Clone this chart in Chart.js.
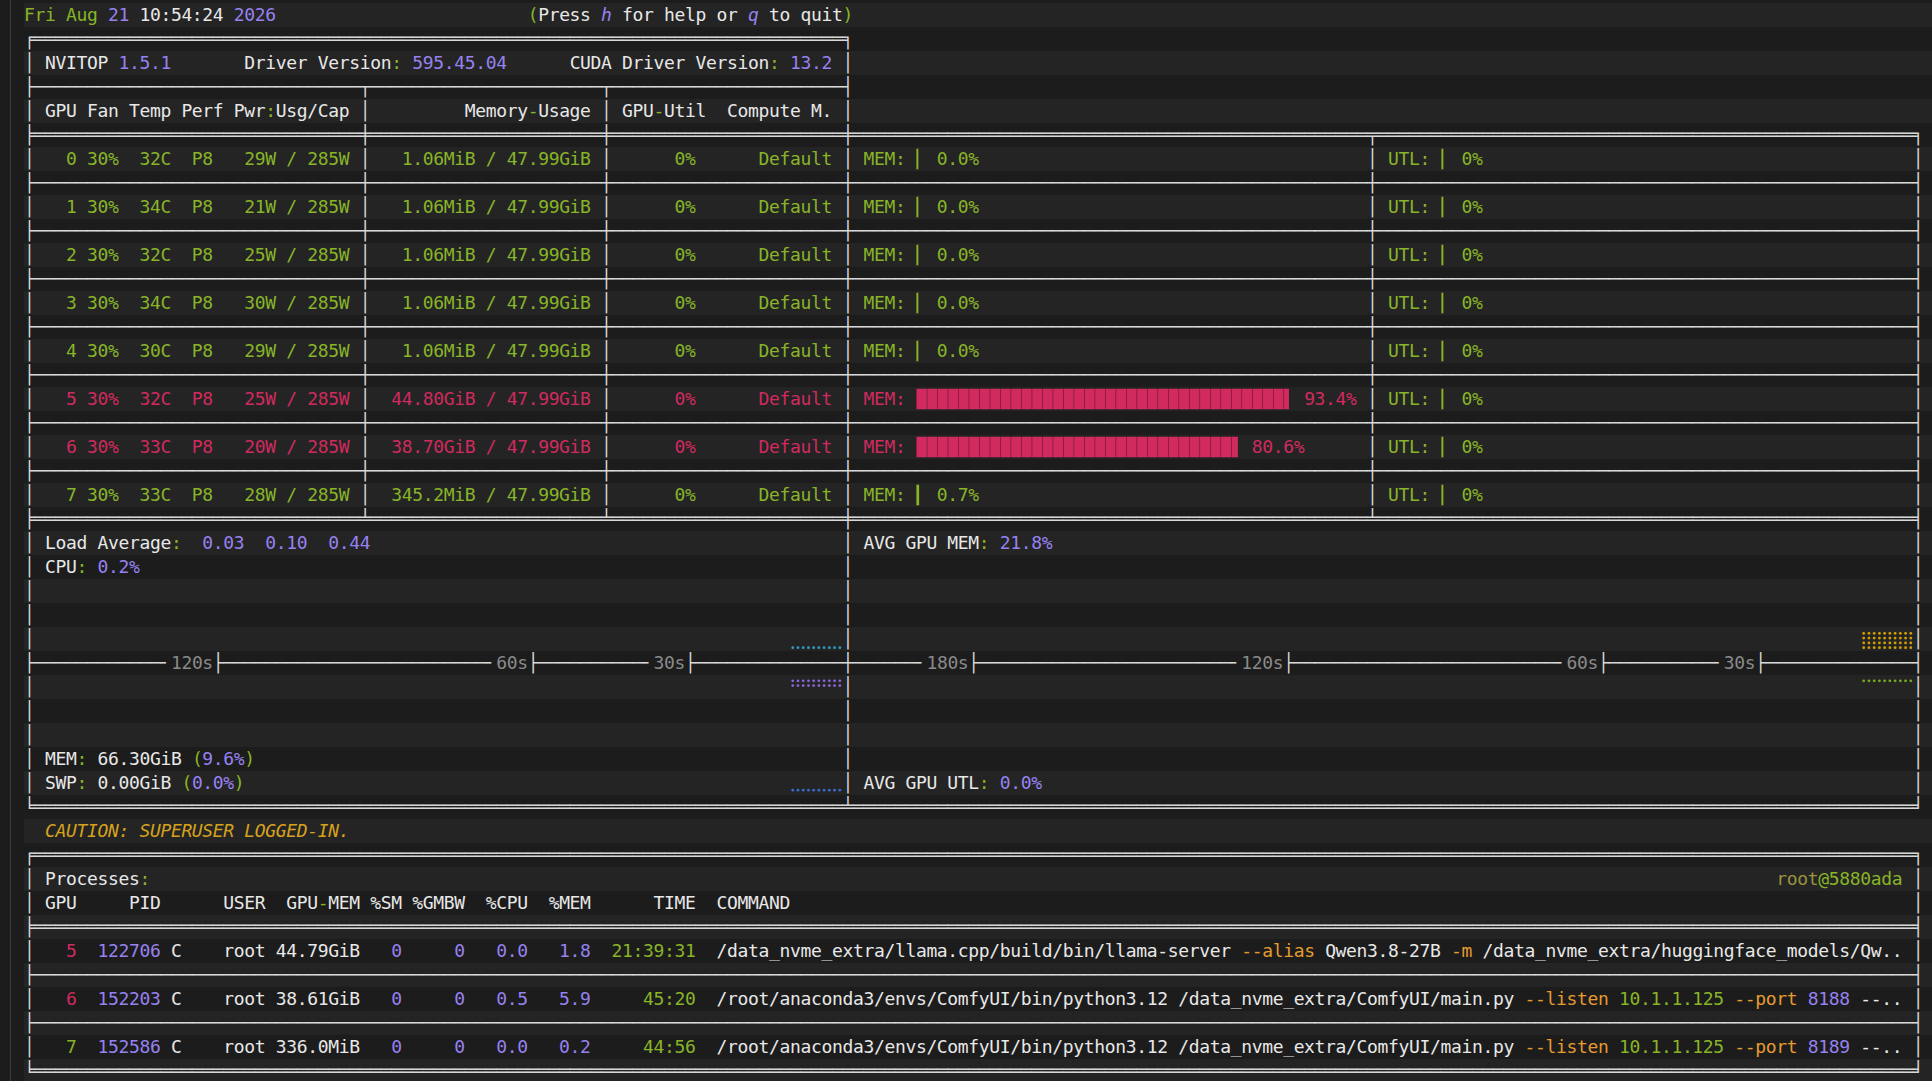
<!DOCTYPE html>
<html>
<head>
<meta charset="utf-8">
<title>nvitop</title>
<script src="https://cdn.jsdelivr.net/npm/chart.js@4.4.1/dist/chart.umd.min.js"></script>
<style>
  html, body { margin: 0; padding: 0; background: #1c1c1c; }
  #term { position: relative; width: 1932px; height: 1081px; overflow: hidden; background: #1c1c1c; }
  .band { position: absolute; left: 24px; width: 1908px; height: 24px; background: #242424; }
  .pane { position: absolute; left: 10px; top: 0; width: 1px; height: 1081px; background: #3d3d3d; }
  .t { position: absolute; white-space: pre; font-family: "DejaVu Sans Mono", monospace; font-size: 18px; line-height: 24px; height: 24px; }
  canvas { position: absolute; z-index: 2; }
</style>
</head>
<body>
<div id="term"><div class="pane"></div></div>
<script>
// values
const clockDay = 'Fri Aug';
const clockDate = '21';
const clockTime = '10:54:24';
const clockYear = '2026';
const nvitopVersion = '1.5.1';
const driverVersion = '595.45.04';
const cudaVersion = '13.2';

const gpuIds = [0, 1, 2, 3, 4, 5, 6, 7];
const fanSpeed = [30, 30, 30, 30, 30, 30, 30, 30];
const temperature = [32, 34, 32, 34, 30, 32, 33, 33];
const perfState = ['P8', 'P8', 'P8', 'P8', 'P8', 'P8', 'P8', 'P8'];
const powerUsage = [29, 21, 25, 30, 29, 25, 20, 28];
const powerCap = [285, 285, 285, 285, 285, 285, 285, 285];
const memUsed = ['1.06MiB', '1.06MiB', '1.06MiB', '1.06MiB', '1.06MiB', '44.80GiB', '38.70GiB', '345.2MiB'];
const memTotal = ['47.99GiB', '47.99GiB', '47.99GiB', '47.99GiB', '47.99GiB', '47.99GiB', '47.99GiB', '47.99GiB'];
const memPercent = [0.0, 0.0, 0.0, 0.0, 0.0, 93.4, 80.6, 0.7];
const gpuUtil = [0, 0, 0, 0, 0, 0, 0, 0];
const computeMode = ['Default', 'Default', 'Default', 'Default', 'Default', 'Default', 'Default', 'Default'];

const loadAverage = ['0.03', '0.10', '0.44'];
const cpuPercent = 0.2;
const hostMemUsed = '66.30GiB';
const hostMemPercent = 9.6;
const swapUsed = '0.00GiB';
const swapPercent = 0.0;
const avgGpuMem = 21.8;
const avgGpuUtl = 0.0;

// history samples, oldest -> newest, one per second
const cpuHistory = [0.2, 0.2, 0.3, 0.2, 0.2, 0.1, 0.2, 0.2, 0.3, 0.2];
const memHistory = [9.6, 9.6, 9.6, 9.6, 9.6, 9.6, 9.6, 9.6, 9.6, 9.6];
const swapHistory = [0.0, 0.0, 0.0, 0.0, 0.0, 0.0, 0.0, 0.0, 0.0, 0.0];
const gpuMemHistory = [21.8, 21.8, 21.8, 21.8, 21.8, 21.8, 21.8, 21.8, 21.8, 21.8];
const gpuUtlHistory = [0.0, 0.0, 0.0, 0.0, 0.0, 0.0, 0.0, 0.0, 0.0, 0.0];

const hostTicks = [120, 60, 30];
const gpuTicks = [180, 120, 60, 30];

const procGpu = [5, 6, 7];
const procPid = [122706, 152203, 152586];
const procType = ['C', 'C', 'C'];
const procUser = ['root', 'root', 'root'];
const procGpuMem = ['44.79GiB', '38.61GiB', '336.0MiB'];
const procSm = [0, 0, 0];
const procGmbw = [0, 0, 0];
const procCpu = [0.0, 0.5, 0.0];
const procMem = [1.8, 5.9, 0.2];
const procTime = ['21:39:31', '45:20', '44:56'];
const procCommand = [
    '/data_nvme_extra/llama.cpp/build/bin/llama-server --alias Qwen3.8-27B -m /data_nvme_extra/huggingface_models/Qw..',
    '/root/anaconda3/envs/ComfyUI/bin/python3.12 /data_nvme_extra/ComfyUI/main.py --listen 10.1.1.125 --port 8188 --..',
    '/root/anaconda3/envs/ComfyUI/bin/python3.12 /data_nvme_extra/ComfyUI/main.py --listen 10.1.1.125 --port 8189 --..'
];
const hostName = ['root', '@5880ada'];

// terminal cell grid
const CW = 10.493, RH = 24, X0 = 13.5, Y0 = 2.8;
const ROWS = 45, COLS = 182;
const RED = '#d02a5f', GREEN = '#88b428', PURPLE = '#9682f0', WHITE = '#e8e8e8';
const GRAY = '#8a8a8a', LINE = '#d8d8d8', ORANGE = '#e49b2f', GOLD = '#d6a21c', OLIVE = '#9a9240';
const term = document.getElementById('term');

const probe = document.createElement('canvas').getContext('2d');
probe.font = '18px "DejaVu Sans Mono"';
const LS = CW - probe.measureText('0123456789').width / 10;

const grid = [];
for (let r = 0; r < ROWS; r++) {
    grid.push(Array.from({ length: COLS }, () => [' ', WHITE, false]));
}

function write(r, c, text, color, italic) {
    for (const ch of text) {
        if (c >= 0 && c < COLS) grid[r][c] = [ch, color, !!italic];
        c++;
    }
    return c;
}
function segs(r, c, list) {
    for (const [t, color, it] of list) c = write(r, c, t, color, it);
    return c;
}
function writeR(r, endCol, text, color) {
    return write(r, endCol - [...text].length + 1, text, color);
}

const loadColor = v => v >= 80 ? RED : GREEN;
const rowColor = i => loadColor(Math.max(memPercent[i], gpuUtil[i]));

// header
segs(0, 1, [[clockDay + ' ', GREEN], [clockDate, PURPLE], [' ' + clockTime + ' ', WHITE], [clockYear, PURPLE]]);
segs(0, 49, [['(', GREEN], ['Press ', WHITE], ['h', PURPLE, true], [' for help or ', WHITE], ['q', PURPLE, true], [' to quit', WHITE], [')', GREEN]]);

write(1, 1, '╒' + '═'.repeat(77) + '╕', LINE);
write(2, 1, '│', LINE); write(2, 79, '│', LINE);
segs(2, 3, [['NVITOP ', WHITE], [nvitopVersion, PURPLE]]);
segs(2, 22, [['Driver Version', WHITE], [':', GREEN], [' ' + driverVersion, PURPLE]]);
segs(2, 53, [['CUDA Driver Version', WHITE], [':', GREEN], [' ' + cudaVersion, PURPLE]]);
write(3, 1, '├' + '─'.repeat(31) + '┬' + '─'.repeat(22) + '┬' + '─'.repeat(22) + '┤', LINE);
write(4, 1, '│', LINE); write(4, 33, '│', LINE); write(4, 56, '│', LINE); write(4, 79, '│', LINE);
segs(4, 3, [['GPU Fan Temp Perf Pwr', WHITE], [':', GREEN], ['Usg/Cap', WHITE]]);
segs(4, 43, [['Memory', WHITE], ['-', GREEN], ['Usage', WHITE]]);
segs(4, 58, [['GPU', WHITE], ['-', GREEN], ['Util', WHITE]]);
write(4, 68, 'Compute M.', WHITE);
write(5, 1, '╞' + '═'.repeat(31) + '╪' + '═'.repeat(22) + '╪' + '═'.repeat(22) + '╪' + '═'.repeat(49) + '╤' + '═'.repeat(51) + '╕', LINE);

// device rows
const MEM_BAR_COL = 86, MEM_BAR_W = 38, UTL_BAR_COL = 136, UTL_BAR_W = 40;
gpuIds.forEach((id, i) => {
    const r = 6 + i * 2;
    const col = rowColor(i);
    [1, 33, 56, 79, 129, 181].forEach(c => write(r, c, '│', LINE));
    const left = String(id).padStart(4) + ' ' + fanSpeed[i] + '%  ' + temperature[i] + 'C  ' + perfState[i] +
        '   ' + String(powerUsage[i]).padStart(2) + 'W / ' + powerCap[i] + 'W';
    write(r, 2, left, col);
    writeR(r, 54, memUsed[i] + ' / ' + memTotal[i], col);
    writeR(r, 64, gpuUtil[i] + '%', col);
    write(r, 71, computeMode[i], col);
    write(r, 81, 'MEM:', col);
    write(r, MEM_BAR_COL + Math.ceil(Math.max(memPercent[i] / 100 * MEM_BAR_W, 1 / 8)) + 1, memPercent[i].toFixed(1) + '%', col);
    const ucol = loadColor(gpuUtil[i]);
    write(r, 131, 'UTL:', ucol);
    write(r, UTL_BAR_COL + Math.ceil(Math.max(gpuUtil[i] / 100 * UTL_BAR_W, 1 / 8)) + 1, gpuUtil[i] + '%', ucol);
    if (i < gpuIds.length - 1) {
        write(r + 1, 1, '├' + '─'.repeat(31) + '┼' + '─'.repeat(22) + '┼' + '─'.repeat(22) + '┼' + '─'.repeat(49) + '┼' + '─'.repeat(51) + '┤', LINE);
    }
});
write(21, 1, '╞' + '═'.repeat(31) + '╧' + '═'.repeat(22) + '╧' + '═'.repeat(22) + '╪' + '═'.repeat(49) + '╧' + '═'.repeat(51) + '╡', LINE);

// host panel
for (let r = 22; r <= 32; r++) {
    if (r === 27) continue;
    write(r, 1, '│', LINE); write(r, 79, '│', LINE); write(r, 181, '│', LINE);
}
segs(22, 3, [['Load Average', WHITE], [':', GREEN], ['  ' + loadAverage.join('  '), PURPLE]]);
segs(23, 3, [['CPU', WHITE], [':', GREEN], [' ' + cpuPercent.toFixed(1) + '%', PURPLE]]);
segs(31, 3, [['MEM', WHITE], [':', GREEN], [' ' + hostMemUsed + ' ', WHITE], ['(', GREEN], [hostMemPercent.toFixed(1) + '%', PURPLE], [')', GREEN]]);
segs(32, 3, [['SWP', WHITE], [':', GREEN], [' ' + swapUsed + ' ', WHITE], ['(', GREEN], [swapPercent.toFixed(1) + '%', PURPLE], [')', GREEN]]);
segs(22, 81, [['AVG GPU MEM', WHITE], [':', GREEN], [' ' + avgGpuMem.toFixed(1) + '%', PURPLE]]);
segs(32, 81, [['AVG GPU UTL', WHITE], [':', GREEN], [' ' + avgGpuUtl.toFixed(1) + '%', PURPLE]]);

// timelines, two seconds per column
const SECONDS_PER_COL = 2;
function timeline(c0, c1, first, last, ticks) {
    write(27, c0, first, LINE);
    for (let c = c0 + 1; c < c1; c++) write(27, c, '─', LINE);
    write(27, c1, last, LINE);
    ticks.forEach(t => {
        const tc = c1 - t / SECONDS_PER_COL;
        write(27, tc, '├', LINE);
        const label = t + 's';
        write(27, tc - label.length - 1, '╴', LINE);
        write(27, tc - label.length, label, GRAY);
    });
}
timeline(1, 79, '├', '┼', hostTicks);
timeline(79, 181, '┼', '┤', gpuTicks);
write(33, 1, '╘' + '═'.repeat(77) + '╧' + '═'.repeat(101) + '╛', LINE);

write(34, 3, 'CAUTION: SUPERUSER LOGGED-IN.', GOLD, true);

// processes
write(35, 1, '╒' + '═'.repeat(179) + '╕', LINE);
[36, 37, 39, 41, 43].forEach(r => { write(r, 1, '│', LINE); write(r, 181, '│', LINE); });
segs(36, 3, [['Processes', WHITE], [':', GREEN]]);
segs(36, 180 - hostName.join('').length, [[hostName[0], OLIVE], [hostName[1], GREEN]]);
write(37, 3, 'GPU     PID      USER  GPU', WHITE);
segs(37, 29, [['-', GREEN], ['MEM %SM %GMBW  %CPU  %MEM      TIME  COMMAND', WHITE]]);
write(38, 1, '╞' + '═'.repeat(179) + '╡', LINE);

function tokenColor(tok) {
    if (/^-+[a-z]/i.test(tok)) return ORANGE;
    if (/^\d+(\.\d+){3}$/.test(tok)) return GREEN;
    if (/^\d+$/.test(tok)) return PURPLE;
    return WHITE;
}
procGpu.forEach((g, j) => {
    const r = 39 + j * 2;
    writeR(r, 5, String(g), rowColor(g));
    writeR(r, 13, String(procPid[j]), PURPLE);
    write(r, 15, procType[j], WHITE);
    write(r, 20, procUser[j], WHITE);
    writeR(r, 32, procGpuMem[j], WHITE);
    writeR(r, 36, String(procSm[j]), PURPLE);
    writeR(r, 42, String(procGmbw[j]), PURPLE);
    writeR(r, 48, procCpu[j].toFixed(1), PURPLE);
    writeR(r, 54, procMem[j].toFixed(1), PURPLE);
    writeR(r, 64, procTime[j], GREEN);
    let c = 67;
    procCommand[j].split(' ').forEach((tok, k) => {
        if (k > 0) c = write(r, c, ' ', WHITE);
        c = write(r, c, tok, tokenColor(tok));
    });
    if (j < procGpu.length - 1) write(r + 1, 1, '├' + '─'.repeat(179) + '┤', LINE);
});
write(44, 1, '╘' + '═'.repeat(179) + '╛', LINE);

// zebra rows
for (let r = 0; r < ROWS; r += 2) {
    const b = document.createElement('div');
    b.className = 'band';
    b.style.top = (Y0 + r * RH) + 'px';
    term.appendChild(b);
}

// emit text runs
function emit(r, c, text, color, italic) {
    const el = document.createElement('div');
    el.className = 't';
    el.style.left = (X0 + c * CW) + 'px';
    el.style.top = (Y0 + r * RH) + 'px';
    el.style.color = color;
    el.style.letterSpacing = LS + 'px';
    if (italic) el.style.fontStyle = 'italic';
    el.textContent = text;
    term.appendChild(el);
}
for (let r = 0; r < ROWS; r++) {
    let c = 0;
    while (c < COLS) {
        if (grid[r][c][0] === ' ') { c++; continue; }
        const start = c, fg = grid[r][c][1], it = grid[r][c][2];
        let s = '';
        while (c < COLS) {
            const cell = grid[r][c];
            if (cell[0] !== ' ' && (cell[1] !== fg || cell[2] !== it)) break;
            s += cell[0];
            c++;
        }
        emit(r, start, s.replace(/\s+$/, ''), fg, it);
    }
}

// charts
function makeCanvas(left, top, w, h) {
    const cv = document.createElement('canvas');
    const W = Math.round(w), H = Math.round(h);
    cv.width = W; cv.height = H;
    cv.style.left = left + 'px';
    cv.style.top = top + 'px';
    cv.style.width = W + 'px';
    cv.style.height = H + 'px';
    term.appendChild(cv);
    return cv;
}
const bare = {
    responsive: false,
    animation: false,
    events: [],
    layout: { padding: 0 },
    plugins: { legend: { display: false }, tooltip: { enabled: false } }
};

// full-block bars with the thin seams between cells
function blockFill(ctx, color) {
    const p = document.createElement('canvas');
    p.width = 21; p.height = 2;
    const g = p.getContext('2d');
    g.fillStyle = color; g.fillRect(0, 0, 21, 2);
    g.fillStyle = 'rgba(25,8,16,0.35)'; g.fillRect(0, 0, 2, 2);
    const pat = ctx.createPattern(p, 'repeat');
    pat.setTransform(new DOMMatrix().scale(CW / 21, 1));
    return pat;
}
function loadBars(col, cols, values) {
    const cv = makeCanvas(X0 + col * CW, Y0 + 6 * RH - RH / 2, cols * CW, gpuIds.length * 2 * RH);
    const ctx = cv.getContext('2d');
    new Chart(cv, {
        type: 'bar',
        data: {
            labels: gpuIds.map(String),
            datasets: [{
                data: values,
                backgroundColor: values.map(v => blockFill(ctx, loadColor(v))),
                borderWidth: 0,
                barThickness: 20,
                minBarLength: 2
            }]
        },
        options: {
            ...bare,
            indexAxis: 'y',
            scales: {
                x: { min: 0, max: 100, display: false },
                y: { display: false }
            }
        }
    });
}
loadBars(MEM_BAR_COL, MEM_BAR_W, memPercent);
loadBars(UTL_BAR_COL, UTL_BAR_W, gpuUtil);

// braille history graphs: 5 rows x 4 dots above and below the timeline
const GRAPH_ROWS = 5, DOTS_PER_ROW = 4;
const dotCount = v => Math.max(1, Math.round(v / 100 * GRAPH_ROWS * DOTS_PER_ROW));
const dotY = (gr, s) => gr + (6.0 + 4.83 * s) / RH;
function historyPoints(hist, mode) {
    const pts = [];
    hist.forEach((v, i) => {
        const ago = hist.length - 1 - i;
        for (let k = 0; k < dotCount(v); k++) {
            const q = Math.floor(k / DOTS_PER_ROW), m = k % DOTS_PER_ROW;
            let y;
            if (mode === 'up') y = dotY(GRAPH_ROWS - 1 - q, 3 - m);
            else if (mode === 'down') y = dotY(GRAPH_ROWS + 1 + q, m);
            else y = dotY(2 * GRAPH_ROWS - q, 3 - m);
            pts.push({ x: ago, y: y });
        }
    });
    return pts;
}
function historyChart(c0, c1, sets) {
    const cv = makeCanvas(X0 + c0 * CW, Y0 + 22 * RH, (c1 - c0) * CW, 11 * RH);
    const pxPerSec = CW / SECONDS_PER_COL;
    const xmin = -(CW - 9.7) / pxPerSec;
    new Chart(cv, {
        type: 'scatter',
        data: {
            datasets: sets.map(s => ({
                data: historyPoints(s.values, s.mode),
                backgroundColor: s.color,
                borderColor: s.color,
                borderWidth: 0,
                pointRadius: 1.4,
                pointHoverRadius: 0,
                clip: false
            }))
        },
        options: {
            ...bare,
            scales: {
                x: { type: 'linear', reverse: true, min: xmin, max: xmin + cv.width / pxPerSec, display: false },
                y: { min: 0, max: 11, reverse: true, display: false }
            }
        }
    });
}
historyChart(2, 79, [
    { values: cpuHistory, mode: 'up', color: '#2f9cc2' },
    { values: memHistory, mode: 'down', color: '#8c63d8' },
    { values: swapHistory, mode: 'bottom', color: '#3a6ccc' }
]);
historyChart(80, 181, [
    { values: gpuMemHistory, mode: 'up', color: '#d4a000' },
    { values: gpuUtlHistory, mode: 'down', color: '#76aa20' }
]);
</script>
</body>
</html>
